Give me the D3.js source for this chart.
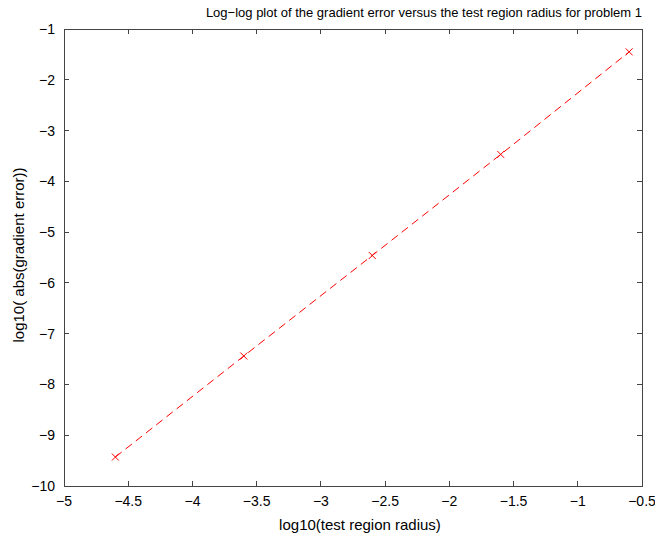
<!DOCTYPE html>
<html>
<head>
<meta charset="utf-8">
<script src="https://cdn.jsdelivr.net/npm/d3@7"></script>
<style>
    body { margin: 0; background: #fff; }
    text { font-family: "Liberation Sans", Arial, sans-serif; fill: #000; }
</style>
</head>
<body>
<div id="chart"></div>
<script>
// log10 of test region radius, and log10 of abs gradient error
const radiusLog = [-4.6, -3.6, -2.6, -1.6, -0.6];
const errorLog = [-9.43, -7.44, -5.46, -3.47, -1.45];

const xTicks = [-5, -4.5, -4, -3.5, -3, -2.5, -2, -1.5, -1, -0.5];
const yTicks = [-10, -9, -8, -7, -6, -5, -4, -3, -2, -1];

const titleText = 'Log\u2212log plot of the gradient error versus the test region radius for problem 1';
const xLabelText = 'log10(test region radius)';
const yLabelText = 'log10( abs(gradient error))';

const width = 655;
const height = 539;
const plotLeft = 64, plotRight = 642, plotTop = 29, plotBottom = 486;
const tickLen = 5;
const axisColor = '#444';

const xScale = d3.scaleLinear().domain([-5, -0.5]).range([plotLeft, plotRight]);
const yScale = d3.scaleLinear().domain([-10, -1]).range([plotBottom, plotTop]);

const minus = (v) => String(v).replace('-', '\u2212');

const svg = d3.select('#chart')
    .append('svg')
    .attr('width', width)
    .attr('height', height);

// box
svg.append('rect')
    .attr('x', plotLeft)
    .attr('y', plotTop)
    .attr('width', plotRight - plotLeft)
    .attr('height', plotBottom - plotTop)
    .attr('fill', 'none')
    .attr('stroke', axisColor)
    .attr('stroke-width', 1)
    .attr('shape-rendering', 'crispEdges');

// inward ticks on all four sides
const ticks = svg.append('g')
    .attr('stroke', axisColor)
    .attr('stroke-width', 1)
    .attr('shape-rendering', 'crispEdges');

xTicks.forEach(t => {
    const x = xScale(t);
    ticks.append('line').attr('x1', x).attr('x2', x).attr('y1', plotBottom).attr('y2', plotBottom - tickLen);
    ticks.append('line').attr('x1', x).attr('x2', x).attr('y1', plotTop).attr('y2', plotTop + tickLen);
});
yTicks.forEach(t => {
    const y = yScale(t);
    ticks.append('line').attr('x1', plotLeft).attr('x2', plotLeft + tickLen).attr('y1', y).attr('y2', y);
    ticks.append('line').attr('x1', plotRight).attr('x2', plotRight - tickLen).attr('y1', y).attr('y2', y);
});

svg.selectAll('.xLabel')
    .data(xTicks)
    .enter().append('text')
    .attr('class', 'xLabel')
    .attr('x', d => xScale(d))
    .attr('y', plotBottom + 20)
    .attr('text-anchor', 'middle')
    .attr('font-size', 14)
    .text(minus);

svg.selectAll('.yLabel')
    .data(yTicks)
    .enter().append('text')
    .attr('class', 'yLabel')
    .attr('x', plotLeft - 9)
    .attr('y', d => yScale(d))
    .attr('dy', 5)
    .attr('text-anchor', 'end')
    .attr('font-size', 14)
    .text(minus);

// dashed line through the points
const line = d3.line()
    .x(d => xScale(d[0]))
    .y(d => yScale(d[1]));

const points = radiusLog.map((r, i) => [r, errorLog[i]]);

svg.append('path')
    .datum(points)
    .attr('d', line)
    .attr('fill', 'none')
    .attr('stroke', '#ff0000')
    .attr('stroke-width', 1)
    .attr('stroke-dasharray', '8,5');

// x markers
const m = 3.5;
svg.selectAll('.marker')
    .data(points)
    .enter().append('path')
    .attr('class', 'marker')
    .attr('d', d => {
        const x = xScale(d[0]), y = yScale(d[1]);
        return `M${x - m},${y - m}L${x + m},${y + m}M${x - m},${y + m}L${x + m},${y - m}`;
    })
    .attr('stroke', '#ff0000')
    .attr('stroke-width', 1)
    .attr('fill', 'none');

svg.append('text')
    .attr('x', plotRight)
    .attr('y', 17)
    .attr('text-anchor', 'end')
    .attr('font-size', 13)
    .text(titleText);

svg.append('text')
    .attr('x', 360)
    .attr('y', 530)
    .attr('text-anchor', 'middle')
    .attr('font-size', 15)
    .text(xLabelText);

svg.append('text')
    .attr('transform', `translate(24,255) rotate(-90)`)
    .attr('text-anchor', 'middle')
    .attr('font-size', 15)
    .text(yLabelText);
</script>
</body>
</html>
